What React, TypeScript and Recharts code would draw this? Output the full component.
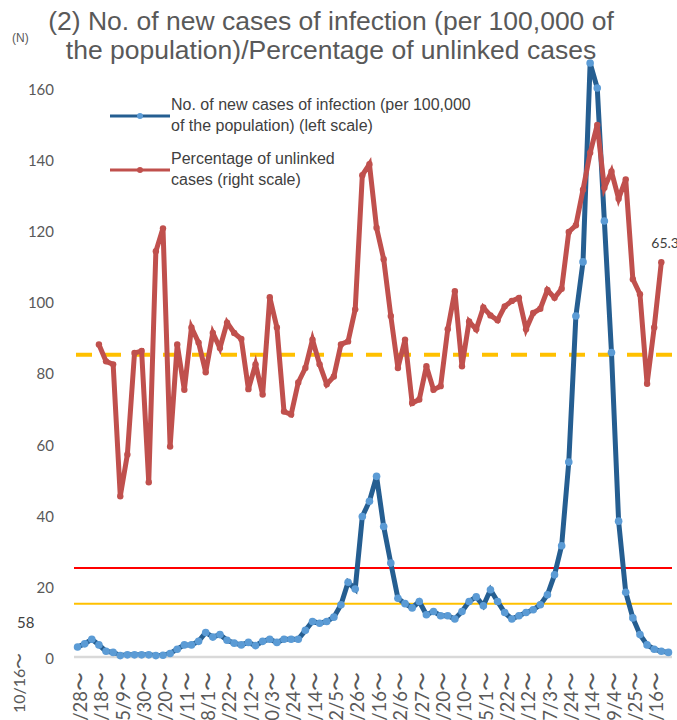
import React from "react"
import { LineChart, Line, XAxis, YAxis, ReferenceLine } from "recharts"

const weeks = [
  "3/28〜", "4/4〜", "4/11〜", "4/18〜", "4/25〜", "5/2〜", "5/9〜", "5/16〜", "5/23〜", "5/30〜",
  "6/6〜", "6/13〜", "6/20〜", "6/27〜", "7/4〜", "7/11〜", "7/18〜", "7/25〜", "8/1〜", "8/8〜",
  "8/15〜", "8/22〜", "8/29〜", "9/5〜", "9/12〜", "9/19〜", "9/26〜", "10/3〜", "10/10〜", "10/17〜",
  "10/24〜", "10/31〜", "11/7〜", "11/14〜", "11/21〜", "11/28〜", "12/5〜", "12/12〜", "12/19〜", "12/26〜",
  "1/2〜", "1/9〜", "1/16〜", "1/23〜", "1/30〜", "2/6〜", "2/13〜", "2/20〜", "2/27〜", "3/6〜",
  "3/13〜", "3/20〜", "3/27〜", "4/3〜", "4/10〜", "4/17〜", "4/24〜", "5/1〜", "5/8〜", "5/15〜",
  "5/22〜", "5/29〜", "6/5〜", "6/12〜", "6/19〜", "6/26〜", "7/3〜", "7/10〜", "7/17〜", "7/24〜",
  "7/31〜", "8/7〜", "8/14〜", "8/21〜", "8/28〜", "9/4〜", "9/11〜", "9/18〜", "9/25〜", "10/2〜",
  "10/9〜", "10/16〜", "10/23〜", "10/30〜",
]

// new cases per 100,000 (left scale)
const newCases = [
  2.8, 3.7, 5.0, 3.4, 1.6, 1.3, 0.4, 0.6, 0.6, 0.6,
  0.6, 0.4, 0.5, 1.0, 2.2, 3.4, 3.4, 4.4, 6.9, 5.6,
  6.3, 4.7, 3.9, 3.4, 4.1, 3.2, 4.4, 5.0, 4.1, 5.0,
  5.0, 5.0, 7.5, 10.0, 9.5, 10.0, 11.2, 14.7, 21.0, 19.1,
  39.5, 43.8, 50.8, 36.7, 26.4, 16.5, 15.0, 13.8, 15.6, 11.9,
  12.8, 11.6, 11.6, 10.7, 12.8, 15.6, 16.9, 14.4, 18.9, 15.6,
  12.5, 10.7, 11.6, 12.5, 13.3, 14.7, 17.5, 23.1, 31.3, 54.8,
  95.9, 111.1, 167.0, 160.0, 122.6, 85.6, 38.2, 18.2, 11.0, 6.3,
  3.4, 2.2, 1.6, 1.3,
]

// percentage of unlinked cases (right scale)
const unlinked = [
  null, null, null, 51.7, 48.9, 48.4, 26.6, 33.5, 50.3, 50.6,
  28.9, 67.1, 70.9, 34.8, 51.7, 44.2, 54.5, 52.0, 47.1, 53.6,
  51.1, 55.3, 53.6, 52.6, 44.3, 48.4, 43.4, 59.5, 54.5, 40.6,
  40.1, 45.4, 47.8, 52.5, 48.4, 45.1, 46.4, 51.7, 52.2, 57.5,
  79.7, 81.5, 71.0, 65.8, 56.4, 47.8, 52.5, 42.0, 42.6, 48.1,
  44.2, 44.8, 54.2, 60.5, 48.1, 55.5, 54.2, 57.8, 56.5, 55.7,
  58.0, 58.9, 59.4, 54.2, 56.9, 57.6, 60.7, 59.4, 60.9, 70.3,
  71.4, 77.3, 83.4, 88.0, 77.6, 80.3, 75.8, 79.0, 62.5, 60.0,
  45.2, 54.5, 65.3, null,
]

const leftTicks = [0, 20, 40, 60, 80, 100, 120, 140, 160]
const stageLines = { high: 25, mid: 15 }
const unlinkedLine = 50

const data = weeks.map((w, i) => ({ week: w, cases: newCases[i], unlinked: unlinked[i] }))

const gray = "#595959"
const blue = "#255E91"
const blueDot = "#5B9BD5"
const red = "#C0504D"

function WeekTick(props: any) {
  const { x, y, payload } = props
  return (
    <text
      x={x}
      y={y}
      transform={`rotate(-90, ${x}, ${y})`}
      textAnchor="end"
      dy="0.5em"
      fill={gray}
      fontSize={18.5}
      fontFamily="Lato"
    >
      {payload.value}
    </text>
  )
}

function LeftTick(props: any) {
  const { x, y, payload } = props
  return (
    <text x={x} y={y} dy={7} textAnchor="end" fill={gray} fontSize={15} fontFamily="Lato">
      {payload.value}
    </text>
  )
}

function LastLabel(props: any) {
  const { x, y, index } = props
  if (index !== unlinked.length - 2) return null
  return (
    <text x={x - 10} y={y - 14} fill="#404040" fontSize={14} fontFamily="Lato">
      65.3
    </text>
  )
}

function LegendRow({ color, dot, lines, top }: { color: string; dot: string; lines: string[]; top: number }) {
  return (
    <div style={{ position: "absolute", left: 108, top, display: "flex", alignItems: "center" }}>
      <svg width={63} height={8}>
        <line x1={2} y1={4} x2={62} y2={4} stroke={color} strokeWidth={3} />
        <circle cx={32} cy={4} r={3} fill={dot} />
      </svg>
      <div style={{ fontSize: 16, lineHeight: "20.5px", color: "#404040" }}>
        {lines.map((l) => (
          <div key={l}>{l}</div>
        ))}
      </div>
    </div>
  )
}

export default function App() {
  return (
    <div
      style={{
        position: "absolute",
        left: 0,
        top: 0,
        width: 677,
        height: 720,
        overflow: "hidden",
        background: "#fff",
        fontFamily: "'Liberation Sans', Arial, sans-serif",
      }}
    >
      <LineChart width={720} height={720} data={data} margin={{ top: 52.4, right: 48, bottom: 0, left: 24 }}>
        <XAxis
          dataKey="week"
          interval={2}
          height={63}
          tickLine={false}
          tickMargin={9}
          axisLine={{ stroke: "#D9D9D9", strokeWidth: 2.5 }}
          padding={{ left: 3.56, right: 3.56 }}
          tick={<WeekTick />}
        />
        <YAxis
          yAxisId="left"
          domain={[0, 170]}
          ticks={leftTicks}
          width={50}
          axisLine={false}
          tickLine={false}
          tickMargin={14}
          tick={<LeftTick />}
        />
        <YAxis yAxisId="right" orientation="right" domain={[0, 100]} hide />
        <ReferenceLine yAxisId="left" y={stageLines.high} stroke="#FF0000" strokeWidth={2} />
        <ReferenceLine yAxisId="left" y={stageLines.mid} stroke="#FFC000" strokeWidth={2} />
        <ReferenceLine
          yAxisId="right"
          y={unlinkedLine}
          stroke="#FFC000"
          strokeWidth={4}
          strokeDasharray="16 13"
        />
        <Line
          yAxisId="left"
          dataKey="cases"
          stroke={blue}
          strokeWidth={5}
          dot={{ r: 3.8, fill: blueDot, stroke: "none" }}
          isAnimationActive={false}
        />
        <Line
          yAxisId="right"
          dataKey="unlinked"
          stroke={red}
          strokeWidth={5}
          dot={{ r: 3.2, fill: red, stroke: "none" }}
          label={<LastLabel />}
          isAnimationActive={false}
        />
      </LineChart>

      <div
        style={{
          position: "absolute",
          left: 0,
          top: 7,
          width: 662,
          textAlign: "center",
          fontSize: 26.5,
          lineHeight: "29px",
          color: gray,
        }}
      >
        <div>(2) No. of new cases of infection (per 100,000 of</div>
        <div>the population)/Percentage of unlinked cases</div>
      </div>
      <div style={{ position: "absolute", left: 12, top: 31, fontSize: 12, color: gray }}>(N)</div>

      <LegendRow color={blue} dot={blueDot} top={95} lines={["No. of new cases of infection (per 100,000", "of the population) (left scale)"]} />
      <LegendRow color={red} dot={red} top={149} lines={["Percentage of unlinked", "cases (right scale)"]} />

      <div style={{ position: "absolute", left: 17, top: 613, fontSize: 15, fontFamily: "Lato", color: "#404040" }}>58</div>
      <div
        style={{
          position: "absolute",
          left: 18,
          top: 653,
          fontSize: 16,
          fontFamily: "Lato",
          color: gray,
          transformOrigin: "0 0",
          transform: "rotate(-90deg) translate(-60px, -9px)",
          whiteSpace: "nowrap",
        }}
      >
        10/16〜
      </div>
    </div>
  )
}
